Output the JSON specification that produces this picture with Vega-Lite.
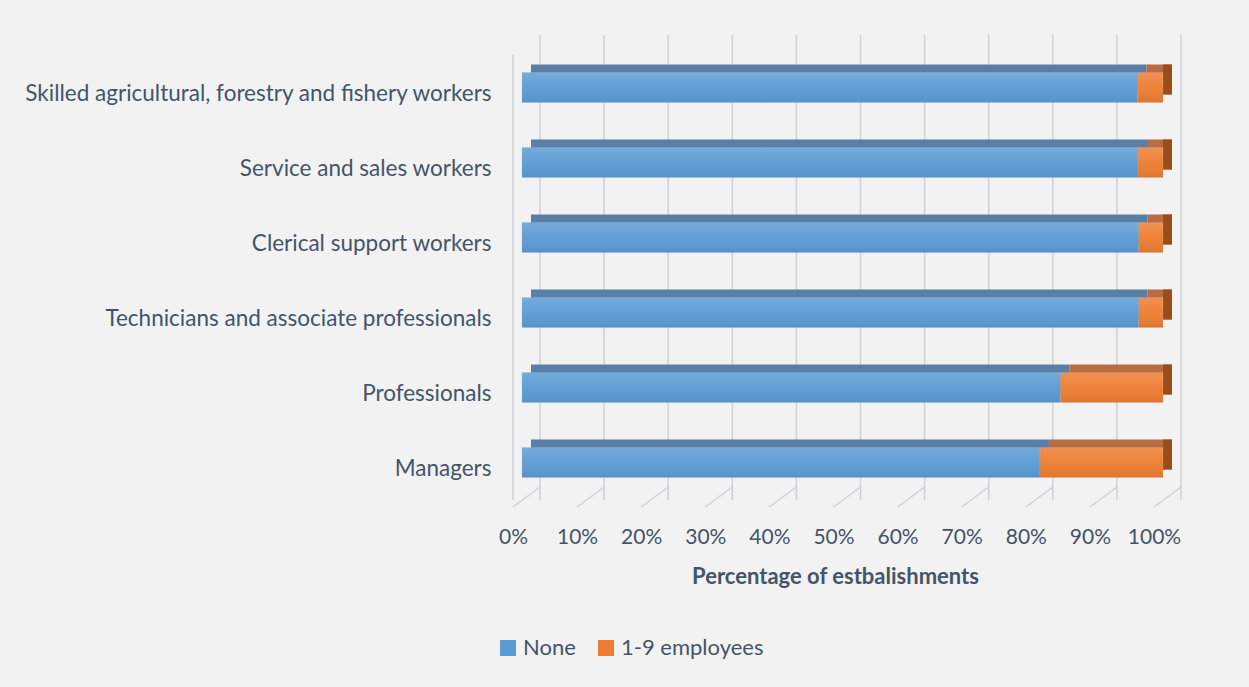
{
  "$schema": "https://vega.github.io/schema/vega-lite/v6.json",
  "width": 641,
  "height": 450,
  "autosize": {"type": "none"},
  "padding": {"left": 522, "top": 50, "right": 86, "bottom": 187},
  "background": "#f2f2f2",
  "config": {
    "view": {"stroke": null},
    "font": "Lato",
    "axis": {"labelColor": "#44546a", "titleColor": "#44546a"},
    "legend": {"labelColor": "#44546a"}
  },
  "datasets": {
    "bars": [
      {"category": "Skilled agricultural, forestry and fishery workers", "group": "None", "value": 0.96},
      {"category": "Skilled agricultural, forestry and fishery workers", "group": "1-9 employees", "value": 0.04},
      {"category": "Service and sales workers", "group": "None", "value": 0.961},
      {"category": "Service and sales workers", "group": "1-9 employees", "value": 0.039},
      {"category": "Clerical support workers", "group": "None", "value": 0.962},
      {"category": "Clerical support workers", "group": "1-9 employees", "value": 0.038},
      {"category": "Technicians and associate professionals", "group": "None", "value": 0.962},
      {"category": "Technicians and associate professionals", "group": "1-9 employees", "value": 0.038},
      {"category": "Professionals", "group": "None", "value": 0.84},
      {"category": "Professionals", "group": "1-9 employees", "value": 0.16},
      {"category": "Managers", "group": "None", "value": 0.808},
      {"category": "Managers", "group": "1-9 employees", "value": 0.192}
    ],
    "ticks": [
      {"v": 0}, {"v": 0.1}, {"v": 0.2}, {"v": 0.3}, {"v": 0.4}, {"v": 0.5},
      {"v": 0.6}, {"v": 0.7}, {"v": 0.8}, {"v": 0.9}, {"v": 1}
    ]
  },
  "layer": [
    {
      "data": {"name": "ticks"},
      "mark": {"type": "rule", "color": "#cdd1d6", "strokeWidth": 1.5, "yOffset": -15, "y2Offset": -13, "xOffset": 18},
      "encoding": {
        "x": {
          "field": "v",
          "type": "quantitative",
          "scale": {"domain": [0, 1], "nice": false, "zero": true},
          "axis": {
            "values": [0, 0.1, 0.2, 0.3, 0.4, 0.5, 0.6, 0.7, 0.8, 0.9, 1],
            "format": ".0%",
            "grid": false,
            "domain": false,
            "ticks": false,
            "labelOffset": -9,
            "labelPadding": 26,
            "labelFontSize": 21,
            "labelFlush": false,
            "labelOverlap": false,
            "title": "Percentage of estbalishments",
            "titleFontSize": 22,
            "titleFontWeight": "bold",
            "titlePadding": 19,
            "titleX": 313
          }
        }
      }
    },
    {
      "data": {"name": "ticks"},
      "transform": [{"filter": "datum.v === 0"}],
      "mark": {"type": "rule", "color": "#cdd1d6", "strokeWidth": 1.5, "yOffset": 5, "y2Offset": 7, "xOffset": -9},
      "encoding": {
        "x": {"field": "v", "type": "quantitative"}
      }
    },
    {
      "data": {"name": "ticks"},
      "mark": {"type": "rule", "color": "#cdd1d6", "strokeWidth": 1.5, "xOffset": -9, "x2Offset": 18, "yOffset": 7, "y2Offset": -13},
      "encoding": {
        "x": {"field": "v", "type": "quantitative"},
        "x2": {"field": "v"},
        "y": {"value": "height"},
        "y2": {"value": "height"}
      }
    },
    {
      "data": {"name": "bars"},
      "transform": [
        {"stack": "value", "groupby": ["category"], "as": ["x0", "x1"], "sort": [{"field": "group", "order": "descending"}]}
      ],
      "layer": [
        {
          "mark": {"type": "bar", "xOffset": 9, "x2Offset": 9, "yOffset": -8},
          "encoding": {
            "fill": {"condition": {"test": "datum.group === 'None'", "value": "#5a7fa7"}, "value": "#b96b42"}
          }
        },
        {
          "transform": [{"filter": "datum.group === '1-9 employees'"}],
          "mark": {"type": "bar", "x2Offset": 9, "yOffset": -8, "fill": "#9a4d18"},
          "encoding": {
            "x": {"field": "x1", "type": "quantitative"},
            "x2": {"field": "x1"}
          }
        },
        {
          "mark": {"type": "bar", "stroke": "#9fb7cf", "strokeWidth": 0.5, "strokeOpacity": 0.5},
          "encoding": {
            "color": {
              "field": "group",
              "type": "nominal",
              "scale": {"domain": ["None", "1-9 employees"], "range": ["#5b9bd5", "#ed7d31"]},
              "legend": {
                "orient": "none",
                "legendX": -25,
                "legendY": 587,
                "direction": "horizontal",
                "title": null,
                "symbolType": "square",
                "symbolSize": 256,
                "symbolStrokeWidth": 0,
                "labelFontSize": 22,
                "labelOffset": 4,
                "columnPadding": 19
              }
            }
          }
        },
        {
          "mark": {
            "type": "bar",
            "fill": {
              "gradient": "linear",
              "x1": 0, "y1": 0, "x2": 0, "y2": 1,
              "stops": [
                {"offset": 0, "color": "rgba(255,255,255,0.16)"},
                {"offset": 0.5, "color": "rgba(255,255,255,0.04)"},
                {"offset": 1, "color": "rgba(0,0,0,0.06)"}
              ]
            }
          }
        }
      ],
      "encoding": {
        "y": {
          "field": "category",
          "type": "nominal",
          "sort": [
            "Skilled agricultural, forestry and fishery workers",
            "Service and sales workers",
            "Clerical support workers",
            "Technicians and associate professionals",
            "Professionals",
            "Managers"
          ],
          "scale": {"paddingInner": 0.6, "paddingOuter": 0.3},
          "axis": {
            "title": null,
            "domain": false,
            "ticks": false,
            "labelFontSize": 22.5,
            "labelPadding": 31,
            "labelOffset": 6,
            "labelLimit": 600
          }
        },
        "x": {"field": "x0", "type": "quantitative"},
        "x2": {"field": "x1"}
      }
    }
  ]
}
